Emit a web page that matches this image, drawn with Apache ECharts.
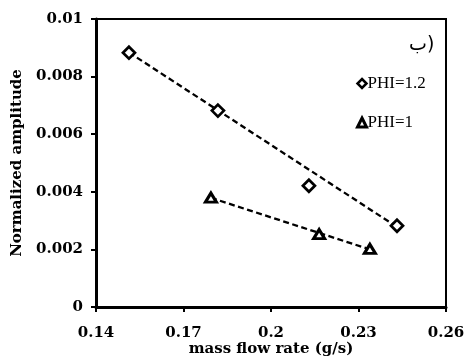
<!DOCTYPE html>
<html>
<head>
<meta charset="utf-8">
<script src="https://cdn.jsdelivr.net/npm/echarts@6/dist/echarts.min.js"></script>
<style>html,body{margin:0;padding:0;background:#fff}#c{width:468px;height:358px}</style>
</head>
<body>
<div id="c"></div>
<script>
// Data
const phi12X = [0.1513, 0.1818, 0.2130, 0.2432];
const phi12Y = [0.00883, 0.00682, 0.00421, 0.00282];
const phi1X = [0.1794, 0.2165, 0.2339];
const phi1Y = [0.00380, 0.00253, 0.00202];
// Dashed trend lines (end values)
const phi12TrendY = [0.00884, 0.00278];
const phi1TrendY = [0.00379, 0.00200];
const xTicks = [0.14, 0.17, 0.2, 0.23, 0.26];
const yTicks = [0, 0.002, 0.004, 0.006, 0.008, 0.01];
const seriesNames = ['PHI=1.2', 'PHI=1'];
const panelLabel = 'ب)';

const pts = (xs, ys) => xs.map((x, i) => [x, ys[i]]);
const trend = (xs, ty) => [[xs[0], ty[0]], [xs[xs.length - 1], ty[1]]];

const serifB = 'DejaVu Serif';
const chart = echarts.init(document.getElementById('c'), null, {renderer: 'canvas'});
chart.setOption({
  animation: false,
  backgroundColor: '#fff',
  grid: {left: 96, right: 22, top: 19, bottom: 51, show: true, borderColor: '#000', borderWidth: 2,
    containLabel: false, outerBoundsMode: 'none'},
  xAxis: {
    type: 'value', min: 0.14, max: 0.26,
    name: 'mass flow rate (g/s)', nameLocation: 'middle', nameGap: 35, nameMoveOverlap: false,
    nameTextStyle: {fontFamily: serifB, fontWeight: 'bold', fontSize: 15, color: '#000'},
    axisLine: {show: true, onZero: false, lineStyle: {color: '#000', width: 3}},
    axisTick: {show: true, inside: false, length: 5, lineStyle: {color: '#000', width: 2}, customValues: xTicks},
    axisLabel: {customValues: xTicks, margin: 19, fontFamily: serifB, fontWeight: 'bold', fontSize: 15, color: '#000',
      formatter: v => String(+v.toFixed(2))},
    splitLine: {show: false}
  },
  yAxis: {
    type: 'value', min: 0, max: 0.01,
    name: 'Normalized amplitude', nameLocation: 'middle', nameGap: 71, nameMoveOverlap: false,
    nameTextStyle: {fontFamily: serifB, fontWeight: 'bold', fontSize: 15, color: '#000'},
    axisLine: {show: true, onZero: false, lineStyle: {color: '#000', width: 3}},
    axisTick: {show: true, inside: false, length: 5, lineStyle: {color: '#000', width: 2}, customValues: yTicks},
    axisLabel: {customValues: yTicks, margin: 13, fontFamily: serifB, fontWeight: 'bold', fontSize: 15, color: '#000',
      formatter: v => String(+v.toFixed(3))},
    splitLine: {show: false}
  },
  legend: {
    orient: 'vertical', left: 351, top: 70, itemGap: 22, itemWidth: 9, itemHeight: 9,
    textStyle: {fontFamily: 'Liberation Serif', fontSize: 17, color: '#000', padding: [0, 0, 0, -4]},
    data: [
      {name: seriesNames[0], icon: 'diamond', itemStyle: {color: '#fff', borderColor: '#000', borderWidth: 2.5}},
      {name: seriesNames[1], icon: 'triangle', itemStyle: {color: '#fff', borderColor: '#000', borderWidth: 3}}
    ]
  },
  graphic: [{
    type: 'text', left: 409, top: 36,
    style: {text: panelLabel, fontFamily: 'DejaVu Sans', fontSize: 19, fill: '#000'}
  }],
  series: [
    {name: 'trend12', type: 'line', data: trend(phi12X, phi12TrendY), symbol: 'none', silent: true,
      lineStyle: {color: '#000', width: 2.3, type: [6, 3.5]}, z: 1},
    {name: 'trend1', type: 'line', data: trend(phi1X, phi1TrendY), symbol: 'none', silent: true,
      lineStyle: {color: '#000', width: 2.3, type: [6, 3.5]}, z: 1},
    {name: seriesNames[0], type: 'scatter', data: pts(phi12X, phi12Y), symbol: 'diamond', symbolSize: 12,
      itemStyle: {color: '#fff', borderColor: '#000', borderWidth: 2.7, opacity: 1}, z: 3},
    {name: seriesNames[1], type: 'scatter', data: pts(phi1X, phi1Y), symbol: 'triangle', symbolSize: [11, 9],
      itemStyle: {color: '#fff', borderColor: '#000', borderWidth: 3, opacity: 1}, z: 3}
  ]
});
</script>
</body>
</html>
